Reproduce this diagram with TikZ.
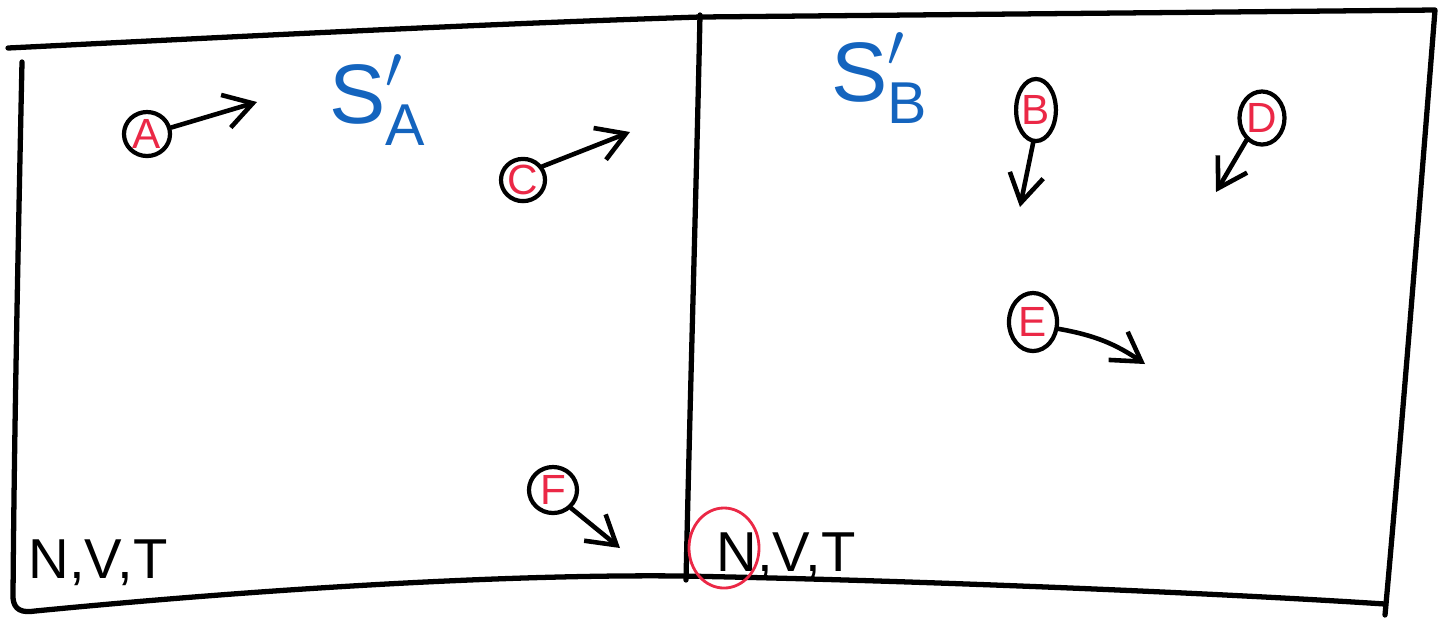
\documentclass[tikz,border=0pt]{standalone}
\usepackage{amsmath}
\usepackage{fontspec}
\setmainfont{Liberation Sans}
\usetikzlibrary{shapes.geometric, arrows.meta, positioning}
\definecolor{penblue}{RGB}{20, 100, 190}
\definecolor{penred}{RGB}{235, 40, 70}
\tikzset{
  >={Straight Barb[length=2.8mm, width=3.4mm]},
  frameline/.style={line width=1.5pt, black, line cap=round, line join=round},
  particle/.style={ellipse, draw=black, line width=1.2pt, inner sep=0pt, text=penred, font=\fontsize{12}{14}\selectfont},
  flowarrow/.style={->, line width=1.3pt, black, line cap=round},
  spacelabel/.style={text=penblue, font=\fontsize{24}{28}\selectfont},
  statelabel/.style={font=\fontsize{16}{19}\selectfont}
}
\begin{document}
\begin{tikzpicture}[x=0.01cm, y=-0.01cm]
    \useasboundingbox[fill=white] (0, 0) rectangle (1448, 620);

    % outer frame and divider
    \draw[frameline] (8, 48) .. controls (250, 36) and (480, 24) .. (700, 17) -- (1435, 10)
        .. controls (1420, 200) and (1400, 450) .. (1385, 615);
    \draw[frameline] (22, 62) .. controls (18, 250) and (14, 450) .. (13, 598)
        .. controls (14, 610) and (22, 613) .. (35, 611)
        .. controls (250, 590) and (500, 574) .. (682, 576)
        .. controls (900, 580) and (1200, 592) .. (1385, 604);
    \draw[frameline] (700, 15) .. controls (696, 200) and (690, 400) .. (686, 580);

    % space labels
    \node[spacelabel] (sa) at (378, 100) {$\text{S}'_{\text{A}}$};
    \node[spacelabel] (sb) at (880, 78) {$\text{S}'_{\text{B}}$};

    % particles, left box
    \node[particle, minimum width=0.46cm, minimum height=0.44cm] (pa) at (147, 134) {A};
    \node[particle, minimum width=0.44cm, minimum height=0.40cm] (pc) at (523, 180) {C};
    \node[particle, minimum width=0.48cm, minimum height=0.46cm] (pf) at (553, 490) {F};

    % particles, right box
    \node[particle, minimum width=0.37cm, minimum height=0.62cm] (pb) at (1036, 110) {B};
    \node[particle, minimum width=0.45cm, minimum height=0.53cm] (pd) at (1262, 118) {D};
    \node[particle, minimum width=0.48cm, minimum height=0.58cm] (pe) at (1033, 322) {E};

    % velocity ends
    \coordinate (va) at (257, 102);
    \coordinate (vc) at (630, 132);
    \coordinate (vf) at (620, 548);
    \coordinate (vb) at (1020, 207);
    \coordinate (vd) at (1216, 192);
    \coordinate (ve) at (1145, 364);

    \draw[flowarrow] (pa.15) -- (va);
    \draw[flowarrow] (pc.35) -- (vc);
    \draw[flowarrow] (pf.-45) -- (vf);
    \draw[flowarrow] (pb.-95) -- (vb);
    \draw[flowarrow] (pd.-125) -- (vd);
    \draw[flowarrow] (pe.-15) to[bend left=12] (ve);

    % state variables
    \node[statelabel] (nvta) at (98, 563) {N,V,T};
    \node[statelabel] (nvtb) at (786, 556) {N,V,T};
    \node[ellipse, draw=penred, line width=0.8pt, minimum width=0.70cm, minimum height=0.80cm] (mark) at (724, 548) {};
\end{tikzpicture}
\end{document}
